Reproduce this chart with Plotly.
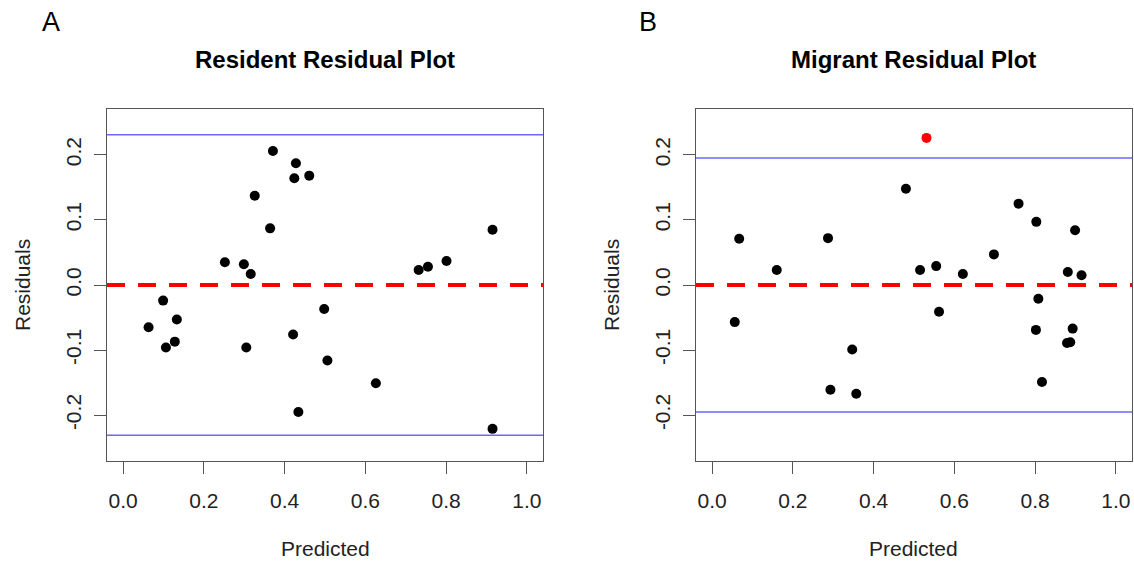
import plotly.graph_objects as go

# ---- data ----
res_pred = [0.063, 0.099, 0.106, 0.128, 0.133, 0.252, 0.299, 0.305, 0.316, 0.326,
            0.364, 0.371, 0.421, 0.424, 0.428, 0.434, 0.461, 0.498, 0.506, 0.626,
            0.732, 0.755, 0.801, 0.915, 0.915]
res_resid = [-0.065, -0.024, -0.096, -0.087, -0.053, 0.035, 0.032, -0.096, 0.017, 0.137,
             0.087, 0.206, -0.076, 0.164, 0.187, -0.195, 0.168, -0.037, -0.116, -0.151,
             0.023, 0.028, 0.037, 0.085, -0.221]
res_limit = 0.231

mig_pred = [0.056, 0.067, 0.160, 0.287, 0.293, 0.347, 0.357, 0.480, 0.515, 0.555,
            0.562, 0.621, 0.698, 0.759, 0.802, 0.803, 0.808, 0.817, 0.879, 0.887,
            0.881, 0.893, 0.899, 0.915]
mig_resid = [-0.057, 0.071, 0.023, 0.072, -0.161, -0.099, -0.167, 0.148, 0.023, 0.029,
             -0.041, 0.017, 0.047, 0.125, -0.069, 0.097, -0.021, -0.149, -0.089, -0.088,
             0.020, -0.067, 0.084, 0.015]
mig_outlier_pred = [0.531]
mig_outlier_resid = [0.226]
mig_limit = 0.195

x_ticks = [0.0, 0.2, 0.4, 0.6, 0.8, 1.0]
x_ticktext = ["0.0", "0.2", "0.4", "0.6", "0.8", "1.0"]
y_ticks = [-0.2, -0.1, 0.0, 0.1, 0.2]
y_ticktext = ["-0.2", "-0.1", "0.0", "0.1", "0.2"]

titles = ["Resident Residual Plot", "Migrant Residual Plot"]
panel_letters = ["A", "B"]

# ---- layout geometry ----
W, H = 1134, 561
xdomA = [107 / W, 543 / W]
xdomB = [696 / W, 1132 / W]
ydom = [1 - 461 / H, 1 - 109 / H]
FONT = "Liberation Sans, Arial, Helvetica, sans-serif"
TXT = "#222222"

fig = go.Figure()

fig.add_trace(go.Scatter(x=res_pred, y=res_resid, mode="markers",
                         marker=dict(color="black", size=10), xaxis="x", yaxis="y",
                         showlegend=False, hoverinfo="x+y"))
fig.add_trace(go.Scatter(x=mig_pred, y=mig_resid, mode="markers",
                         marker=dict(color="black", size=10), xaxis="x2", yaxis="y2",
                         showlegend=False, hoverinfo="x+y"))
fig.add_trace(go.Scatter(x=mig_outlier_pred, y=mig_outlier_resid, mode="markers",
                         marker=dict(color="red", size=10), xaxis="x2", yaxis="y2",
                         showlegend=False, hoverinfo="x+y"))

shapes = []
for xr, yr, lim in [("x", "y", res_limit), ("x2", "y2", mig_limit)]:
    for v in (lim, -lim):
        shapes.append(dict(type="line", xref=xr + " domain", yref=yr, x0=0, x1=1, y0=v, y1=v,
                           line=dict(color="rgb(105,105,255)", width=1.5), layer="above"))
    shapes.append(dict(type="line", xref=xr + " domain", yref=yr, x0=0, x1=1, y0=0, y1=0,
                       line=dict(color="red", width=4, dash="18px,13px"), layer="above"))

axis_common = dict(showgrid=False, zeroline=False, showline=True, mirror=True,
                   linecolor="#555555", linewidth=1.2, ticks="outside", ticklen=12,
                   tickwidth=1.2, tickcolor="#555555",
                   tickfont=dict(family=FONT, size=21, color=TXT))

xa = dict(axis_common, range=[-0.04, 1.04], tickvals=x_ticks, ticktext=x_ticktext,
          ticklabelstandoff=9)
ya = dict(axis_common, range=[-0.2704, 0.2704], tickvals=y_ticks, ticktext=y_ticktext,
          tickangle=-90, ticklabelstandoff=5)

annotations = []
for dom, t, letter, ax_letter_x in [(xdomA, titles[0], panel_letters[0], 51),
                                    (xdomB, titles[1], panel_letters[1], 648)]:
    cx = (dom[0] + dom[1]) / 2
    annotations.append(dict(text="<b>" + t + "</b>", x=cx, y=1 - 60 / H, xref="paper", yref="paper",
                            showarrow=False, xanchor="center", yanchor="middle",
                            font=dict(family=FONT, size=24, color="black")))
    annotations.append(dict(text="Predicted", x=cx, y=1 - 548 / H, xref="paper", yref="paper",
                            showarrow=False, xanchor="center", yanchor="middle",
                            font=dict(family=FONT, size=21, color=TXT)))
    annotations.append(dict(text=letter, x=ax_letter_x / W, y=1 - 22 / H, xref="paper", yref="paper",
                            showarrow=False, xanchor="center", yanchor="middle",
                            font=dict(family=FONT, size=27, color="black")))
for xpix in (22, 611):
    annotations.append(dict(text="Residuals", x=xpix / W, y=(ydom[0] + ydom[1]) / 2,
                            xref="paper", yref="paper", showarrow=False, textangle=-90,
                            xanchor="center", yanchor="middle",
                            font=dict(family=FONT, size=21, color=TXT)))

fig.update_layout(
    width=W, height=H, margin=dict(l=0, r=0, t=0, b=0),
    paper_bgcolor="white", plot_bgcolor="white",
    xaxis=dict(xa, domain=xdomA, anchor="y"),
    yaxis=dict(ya, domain=ydom, anchor="x"),
    xaxis2=dict(xa, domain=xdomB, anchor="y2"),
    yaxis2=dict(ya, domain=ydom, anchor="x2"),
    shapes=shapes, annotations=annotations, showlegend=False,
)

fig.write_html("out.html", config={"displayModeBar": False},
               post_script="document.body.style.margin='0';document.body.style.padding='0';")
